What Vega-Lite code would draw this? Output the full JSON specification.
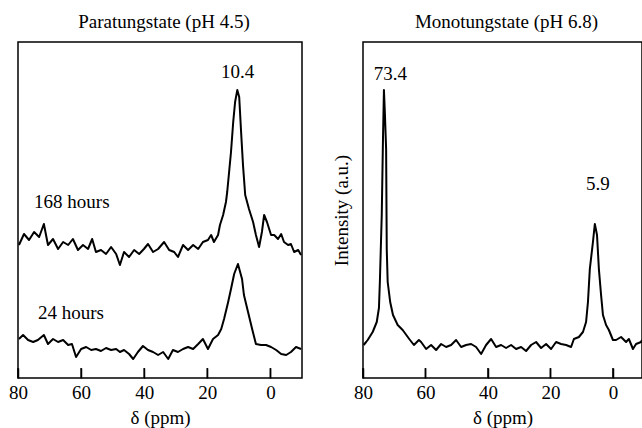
{
  "$schema": "https://vega.github.io/schema/vega-lite/v6.json",
  "padding": {"left": 7, "top": 12, "right": 0, "bottom": 0},
  "spacing": 28,
  "config": {
    "font": "Liberation Serif",
    "view": {"stroke": "black", "strokeWidth": 1.5},
    "title": {"font": "Liberation Serif", "fontSize": 19, "fontWeight": "normal", "color": "black", "offset": 10, "dx": 4},
    "text": {"font": "Liberation Serif", "fontSize": 19, "color": "black"},
    "axisX": {
      "tickSize": -10, "tickColor": "black", "tickWidth": 1.5, "ticks": true, "zindex": 2,
      "labelFont": "Liberation Serif", "labelFontSize": 19, "labelColor": "black", "labelPadding": 15,
      "labelFlush": false, "labelOverlap": false, "labelAngle": 0,
      "titleFont": "Liberation Serif", "titleFontSize": 19, "titleFontWeight": "normal", "titleColor": "black", "titlePadding": 6,
      "domain": false, "grid": false
    },
    "axisY": {
      "titleFont": "Liberation Serif", "titleFontSize": 19, "titleFontWeight": "normal", "titleColor": "black", "titlePadding": 12,
      "labels": false, "ticks": false, "domain": false, "grid": false
    }
  },
  "hconcat": [
    {
      "title": "Paratungstate (pH 4.5)",
      "width": 284,
      "height": 336,
      "layer": [
        {
          "data": {"values": [
            {"series": "168", "ppm": 79.7, "val": 133}, {"series": "168", "ppm": 78.1, "val": 144}, {"series": "168", "ppm": 76.5, "val": 138}, {"series": "168", "ppm": 74.9, "val": 146}, {"series": "168", "ppm": 73.3, "val": 141}, {"series": "168", "ppm": 71.8, "val": 154}, {"series": "168", "ppm": 70.5, "val": 133}, {"series": "168", "ppm": 68.9, "val": 139}, {"series": "168", "ppm": 67.3, "val": 129}, {"series": "168", "ppm": 65.7, "val": 136}, {"series": "168", "ppm": 64.1, "val": 133}, {"series": "168", "ppm": 62.6, "val": 139}, {"series": "168", "ppm": 61.0, "val": 128}, {"series": "168", "ppm": 59.4, "val": 133}, {"series": "168", "ppm": 57.8, "val": 129}, {"series": "168", "ppm": 56.5, "val": 139}, {"series": "168", "ppm": 55.3, "val": 126}, {"series": "168", "ppm": 53.7, "val": 128}, {"series": "168", "ppm": 52.1, "val": 124}, {"series": "168", "ppm": 50.5, "val": 131}, {"series": "168", "ppm": 48.9, "val": 124}, {"series": "168", "ppm": 47.7, "val": 113}, {"series": "168", "ppm": 46.4, "val": 126}, {"series": "168", "ppm": 44.8, "val": 121}, {"series": "168", "ppm": 43.2, "val": 128}, {"series": "168", "ppm": 41.6, "val": 124}, {"series": "168", "ppm": 40.1, "val": 129}, {"series": "168", "ppm": 38.8, "val": 134}, {"series": "168", "ppm": 37.2, "val": 126}, {"series": "168", "ppm": 35.6, "val": 129}, {"series": "168", "ppm": 33.7, "val": 136}, {"series": "168", "ppm": 32.1, "val": 128}, {"series": "168", "ppm": 30.5, "val": 126}, {"series": "168", "ppm": 29.3, "val": 121}, {"series": "168", "ppm": 27.7, "val": 133}, {"series": "168", "ppm": 26.1, "val": 128}, {"series": "168", "ppm": 24.5, "val": 133}, {"series": "168", "ppm": 22.9, "val": 129}, {"series": "168", "ppm": 21.4, "val": 136}, {"series": "168", "ppm": 19.8, "val": 138}, {"series": "168", "ppm": 18.8, "val": 143}, {"series": "168", "ppm": 17.9, "val": 136}, {"series": "168", "ppm": 16.6, "val": 143}, {"series": "168", "ppm": 16.0, "val": 153}, {"series": "168", "ppm": 15.0, "val": 163}, {"series": "168", "ppm": 14.1, "val": 176}, {"series": "168", "ppm": 13.7, "val": 186}, {"series": "168", "ppm": 13.1, "val": 206}, {"series": "168", "ppm": 12.5, "val": 226}, {"series": "168", "ppm": 11.8, "val": 256}, {"series": "168", "ppm": 11.2, "val": 276}, {"series": "168", "ppm": 10.5, "val": 288}, {"series": "168", "ppm": 9.9, "val": 281}, {"series": "168", "ppm": 9.3, "val": 246}, {"series": "168", "ppm": 8.7, "val": 213}, {"series": "168", "ppm": 8.0, "val": 183}, {"series": "168", "ppm": 7.4, "val": 176}, {"series": "168", "ppm": 6.8, "val": 169}, {"series": "168", "ppm": 5.5, "val": 156}, {"series": "168", "ppm": 4.6, "val": 143}, {"series": "168", "ppm": 3.6, "val": 131}, {"series": "168", "ppm": 2.7, "val": 146}, {"series": "168", "ppm": 2.0, "val": 163}, {"series": "168", "ppm": 1.1, "val": 156}, {"series": "168", "ppm": -0.2, "val": 143}, {"series": "168", "ppm": -1.2, "val": 143}, {"series": "168", "ppm": -2.4, "val": 139}, {"series": "168", "ppm": -3.4, "val": 144}, {"series": "168", "ppm": -4.3, "val": 136}, {"series": "168", "ppm": -5.6, "val": 133}, {"series": "168", "ppm": -6.5, "val": 134}, {"series": "168", "ppm": -7.5, "val": 126}, {"series": "168", "ppm": -8.8, "val": 128}, {"series": "168", "ppm": -9.7, "val": 123},
            {"series": "24", "ppm": 79.7, "val": 39}, {"series": "24", "ppm": 78.4, "val": 43}, {"series": "24", "ppm": 76.8, "val": 38}, {"series": "24", "ppm": 75.2, "val": 36}, {"series": "24", "ppm": 73.7, "val": 38}, {"series": "24", "ppm": 71.8, "val": 43}, {"series": "24", "ppm": 70.5, "val": 34}, {"series": "24", "ppm": 68.9, "val": 39}, {"series": "24", "ppm": 67.3, "val": 36}, {"series": "24", "ppm": 65.7, "val": 38}, {"series": "24", "ppm": 64.1, "val": 33}, {"series": "24", "ppm": 62.9, "val": 34}, {"series": "24", "ppm": 61.6, "val": 21}, {"series": "24", "ppm": 60.0, "val": 29}, {"series": "24", "ppm": 58.4, "val": 31}, {"series": "24", "ppm": 56.8, "val": 28}, {"series": "24", "ppm": 55.3, "val": 29}, {"series": "24", "ppm": 53.7, "val": 27}, {"series": "24", "ppm": 52.1, "val": 30}, {"series": "24", "ppm": 50.5, "val": 28}, {"series": "24", "ppm": 48.9, "val": 29}, {"series": "24", "ppm": 47.7, "val": 26}, {"series": "24", "ppm": 46.4, "val": 28}, {"series": "24", "ppm": 44.8, "val": 24}, {"series": "24", "ppm": 43.5, "val": 19}, {"series": "24", "ppm": 42.0, "val": 26}, {"series": "24", "ppm": 40.4, "val": 32}, {"series": "24", "ppm": 38.8, "val": 28}, {"series": "24", "ppm": 37.2, "val": 26}, {"series": "24", "ppm": 35.6, "val": 23}, {"series": "24", "ppm": 34.0, "val": 26}, {"series": "24", "ppm": 32.4, "val": 19}, {"series": "24", "ppm": 30.9, "val": 28}, {"series": "24", "ppm": 29.3, "val": 26}, {"series": "24", "ppm": 27.7, "val": 29}, {"series": "24", "ppm": 26.1, "val": 31}, {"series": "24", "ppm": 24.5, "val": 29}, {"series": "24", "ppm": 22.9, "val": 34}, {"series": "24", "ppm": 21.4, "val": 39}, {"series": "24", "ppm": 19.8, "val": 29}, {"series": "24", "ppm": 18.2, "val": 39}, {"series": "24", "ppm": 16.6, "val": 43}, {"series": "24", "ppm": 15.6, "val": 49}, {"series": "24", "ppm": 14.7, "val": 59}, {"series": "24", "ppm": 13.4, "val": 76}, {"series": "24", "ppm": 12.5, "val": 89}, {"series": "24", "ppm": 11.5, "val": 104}, {"series": "24", "ppm": 10.3, "val": 114}, {"series": "24", "ppm": 9.0, "val": 99}, {"series": "24", "ppm": 8.4, "val": 83}, {"series": "24", "ppm": 7.1, "val": 66}, {"series": "24", "ppm": 5.8, "val": 49}, {"series": "24", "ppm": 4.6, "val": 34}, {"series": "24", "ppm": 3.0, "val": 33}, {"series": "24", "ppm": 1.4, "val": 33}, {"series": "24", "ppm": -0.2, "val": 31}, {"series": "24", "ppm": -1.8, "val": 28}, {"series": "24", "ppm": -3.4, "val": 24}, {"series": "24", "ppm": -5.0, "val": 23}, {"series": "24", "ppm": -6.5, "val": 26}, {"series": "24", "ppm": -8.1, "val": 31}, {"series": "24", "ppm": -9.7, "val": 29}
          ]},
          "mark": {"type": "line", "color": "black", "strokeWidth": 2, "strokeJoin": "round"},
          "encoding": {
            "x": {"field": "ppm", "type": "quantitative", "scale": {"domain": [-10, 80], "reverse": true, "nice": false, "zero": false}, "axis": {"title": "δ (ppm)", "values": [80, 60, 40, 20, 0]}},
            "y": {"field": "val", "type": "quantitative", "scale": {"domain": [0, 336], "nice": false, "zero": false}, "axis": null},
            "detail": {"field": "series"}
          }
        },
        {
          "data": {"values": [{"ppm": 80}, {"ppm": 60}, {"ppm": 40}, {"ppm": 20}, {"ppm": 0}]},
          "mark": {"type": "rule", "color": "black", "strokeWidth": 1.5},
          "encoding": {
            "x": {"field": "ppm", "type": "quantitative"},
            "y": {"datum": 0},
            "y2": {"datum": 10}
          }
        },
        {
          "data": {"values": [{"ppm": 10.4, "val": 306, "label": "10.4"}]},
          "mark": {"type": "text", "align": "center", "baseline": "middle"},
          "encoding": {
            "x": {"field": "ppm", "type": "quantitative"},
            "y": {"field": "val", "type": "quantitative"},
            "text": {"field": "label"}
          }
        },
        {
          "data": {"values": [{"ppm": 74.9, "val": 176, "label": "168 hours"}, {"ppm": 73.7, "val": 65, "label": "24 hours"}]},
          "mark": {"type": "text", "align": "left", "baseline": "middle"},
          "encoding": {
            "x": {"field": "ppm", "type": "quantitative"},
            "y": {"field": "val", "type": "quantitative"},
            "text": {"field": "label"}
          }
        }
      ]
    },
    {
      "title": "Monotungstate (pH 6.8)",
      "width": 279,
      "height": 336,
      "layer": [
        {
          "data": {"values": [
            {"ppm": 79.8, "val": 33}, {"ppm": 79.0, "val": 36}, {"ppm": 78.5, "val": 38}, {"ppm": 76.9, "val": 46}, {"ppm": 75.6, "val": 56}, {"ppm": 74.9, "val": 70}, {"ppm": 74.6, "val": 96}, {"ppm": 74.0, "val": 163}, {"ppm": 73.6, "val": 240}, {"ppm": 73.3, "val": 288}, {"ppm": 73.0, "val": 265}, {"ppm": 72.6, "val": 229}, {"ppm": 72.4, "val": 129}, {"ppm": 72.1, "val": 96}, {"ppm": 71.3, "val": 76}, {"ppm": 70.4, "val": 63}, {"ppm": 68.9, "val": 53}, {"ppm": 67.3, "val": 48}, {"ppm": 65.2, "val": 39}, {"ppm": 63.7, "val": 33}, {"ppm": 62.1, "val": 38}, {"ppm": 61.4, "val": 36}, {"ppm": 59.8, "val": 29}, {"ppm": 58.2, "val": 33}, {"ppm": 56.6, "val": 28}, {"ppm": 55.0, "val": 34}, {"ppm": 53.4, "val": 31}, {"ppm": 51.8, "val": 33}, {"ppm": 50.2, "val": 38}, {"ppm": 48.6, "val": 31}, {"ppm": 47.0, "val": 33}, {"ppm": 45.4, "val": 34}, {"ppm": 43.8, "val": 31}, {"ppm": 42.2, "val": 24}, {"ppm": 40.6, "val": 33}, {"ppm": 39.0, "val": 39}, {"ppm": 37.4, "val": 31}, {"ppm": 35.8, "val": 33}, {"ppm": 34.2, "val": 30}, {"ppm": 32.6, "val": 33}, {"ppm": 31.0, "val": 29}, {"ppm": 29.4, "val": 31}, {"ppm": 27.8, "val": 27}, {"ppm": 26.2, "val": 33}, {"ppm": 24.6, "val": 36}, {"ppm": 23.0, "val": 30}, {"ppm": 21.4, "val": 34}, {"ppm": 19.8, "val": 29}, {"ppm": 18.2, "val": 36}, {"ppm": 16.6, "val": 34}, {"ppm": 15.0, "val": 33}, {"ppm": 13.4, "val": 31}, {"ppm": 12.5, "val": 39}, {"ppm": 10.9, "val": 41}, {"ppm": 9.6, "val": 46}, {"ppm": 8.6, "val": 56}, {"ppm": 8.0, "val": 76}, {"ppm": 7.4, "val": 109}, {"ppm": 6.4, "val": 136}, {"ppm": 5.8, "val": 154}, {"ppm": 5.1, "val": 143}, {"ppm": 4.5, "val": 109}, {"ppm": 3.8, "val": 83}, {"ppm": 3.2, "val": 63}, {"ppm": 2.2, "val": 53}, {"ppm": 1.3, "val": 48}, {"ppm": 0.0, "val": 38}, {"ppm": -1.0, "val": 38}, {"ppm": -2.6, "val": 41}, {"ppm": -4.2, "val": 36}, {"ppm": -5.1, "val": 39}, {"ppm": -6.4, "val": 29}, {"ppm": -7.4, "val": 34}, {"ppm": -9.0, "val": 36}, {"ppm": -9.3, "val": 38}
          ]},
          "mark": {"type": "line", "color": "black", "strokeWidth": 2, "strokeJoin": "round"},
          "encoding": {
            "x": {"field": "ppm", "type": "quantitative", "scale": {"domain": [-9.3, 80], "reverse": true, "nice": false, "zero": false}, "axis": {"title": "δ (ppm)", "values": [80, 60, 40, 20, 0]}},
            "y": {"field": "val", "type": "quantitative", "scale": {"domain": [0, 336], "nice": false, "zero": false}, "axis": {"title": "Intensity (a.u.)"}}
          }
        },
        {
          "data": {"values": [{"ppm": 80}, {"ppm": 60}, {"ppm": 40}, {"ppm": 20}, {"ppm": 0}]},
          "mark": {"type": "rule", "color": "black", "strokeWidth": 1.5},
          "encoding": {
            "x": {"field": "ppm", "type": "quantitative"},
            "y": {"datum": 0},
            "y2": {"datum": 10}
          }
        },
        {
          "data": {"values": [{"ppm": 71.2, "val": 304, "label": "73.4"}, {"ppm": 4.8, "val": 194, "label": "5.9"}]},
          "mark": {"type": "text", "align": "center", "baseline": "middle"},
          "encoding": {
            "x": {"field": "ppm", "type": "quantitative"},
            "y": {"field": "val", "type": "quantitative"},
            "text": {"field": "label"}
          }
        }
      ]
    }
  ]
}
